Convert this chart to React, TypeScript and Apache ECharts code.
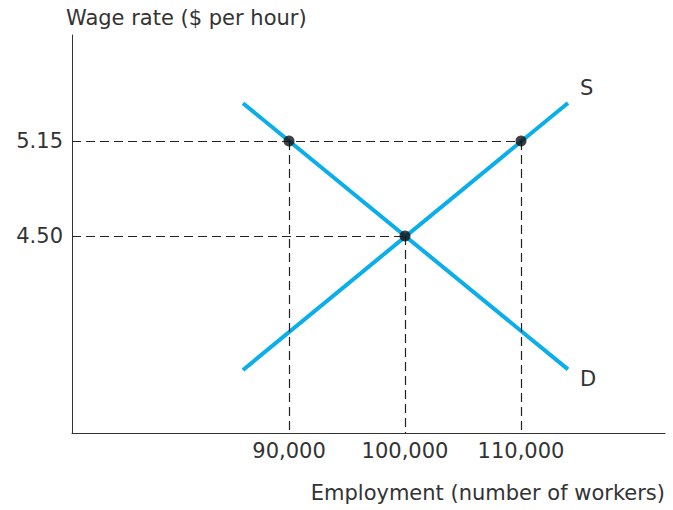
import React, { useEffect, useRef } from "react";
import * as echarts from "echarts";

const xMin = 71293;
const xMax = 122414;
const yMin = 3.152;
const yMax = 5.875;
const xTicks = [90000, 100000, 110000];
const yTicks = [4.5, 5.15];
const demand = [[86034, 5.408], [114052, 3.587]];
const supply = [[86034, 3.583], [114052, 5.41]];
const points = [[90000, 5.15], [100000, 4.5], [110000, 5.15]];
const yTitle = "Wage rate ($ per hour)";
const xTitle = "Employment (number of workers)";

const FONT = "'DejaVu Sans', sans-serif";
const FS = 21;
const TXT = "#333";
const BLUE = "#0AAEEA";

export default function App() {
  const ref = useRef<HTMLDivElement>(null);
  useEffect(() => {
    if (!ref.current) return;
    const chart = echarts.init(ref.current, null, { renderer: "svg" });
    const guides: any[] = [];
    points.forEach((p) => {
      guides.push([{ coord: [xMin, p[1]] }, { coord: [p[0], p[1]] }]);
      guides.push([{ coord: [p[0], p[1]] }, { coord: [p[0], yMin] }]);
    });
    const endLabel = (t: string, dy: number) => ({
      show: true,
      formatter: t,
      offset: [4, dy],
      fontSize: FS,
      fontFamily: FONT,
      color: TXT,
    });
    chart.setOption({
      animation: false,
      grid: { left: 72, right: 8, top: 35, bottom: 77 },
      xAxis: {
        type: "value",
        min: xMin,
        max: xMax,
        splitLine: { show: false },
        axisLine: { lineStyle: { color: "#333", width: 1 } },
        axisTick: { show: false },
        axisLabel: {
          customValues: xTicks,
          formatter: (v: number) => v.toLocaleString("en-US"),
          color: TXT,
          fontSize: FS,
          fontFamily: FONT,
          margin: 7,
        },
      },
      yAxis: {
        type: "value",
        min: yMin,
        max: yMax,
        splitLine: { show: false },
        axisLine: { show: true, lineStyle: { color: "#333", width: 1 } },
        axisTick: { show: false },
        axisLabel: {
          customValues: yTicks,
          formatter: (v: number) => v.toFixed(2),
          color: TXT,
          fontSize: FS,
          fontFamily: FONT,
          margin: 9,
        },
      },
      graphic: [
        {
          type: "text",
          left: 66,
          top: 7,
          style: { text: yTitle, fontSize: FS, fontFamily: FONT, fill: TXT },
        },
        {
          type: "text",
          right: 8,
          top: 482,
          style: { text: xTitle, fontSize: FS, fontFamily: FONT, fill: TXT },
        },
      ],
      series: [
        {
          type: "line",
          data: demand,
          symbol: "none",
          lineStyle: { color: BLUE, width: 4 },
          endLabel: endLabel("D", 10),
          markLine: {
            silent: true,
            symbol: "none",
            label: { show: false },
            lineStyle: { color: "#222", type: [9, 5], width: 1.2 },
            data: guides,
          },
          z: 3,
        },
        {
          type: "line",
          data: supply,
          symbol: "none",
          lineStyle: { color: BLUE, width: 4 },
          endLabel: endLabel("S", -15),
          z: 3,
        },
        {
          type: "scatter",
          data: points,
          symbolSize: 11,
          itemStyle: { color: "#111" },
          z: 5,
        },
      ],
    });
    return () => chart.dispose();
  }, []);
  return <div ref={ref} style={{ width: 673, height: 510, position: "absolute", left: 0, top: 0 }} />;
}
